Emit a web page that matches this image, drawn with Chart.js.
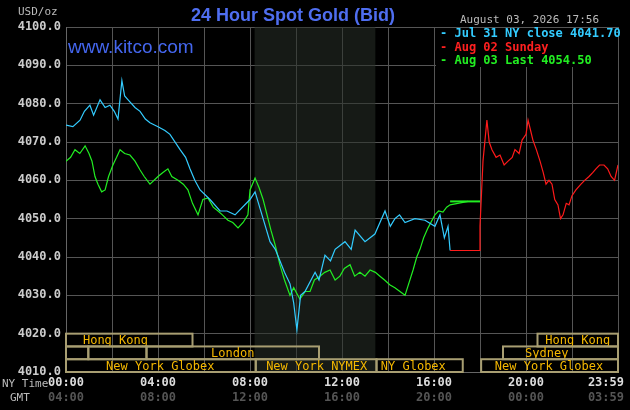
<!DOCTYPE html>
<html><head><meta charset="utf-8">
<script src="https://cdn.jsdelivr.net/npm/chart.js@4/dist/chart.umd.min.js"></script>
<style>html,body{margin:0;background:#000}#w{width:630px;height:410px}</style>
</head><body><div id="w"><canvas id="c"></canvas></div>
<script>
const yTicks=[4010,4020,4030,4040,4050,4060,4070,4080,4090,4100];
const xLabelHours=[0,4,8,12,16,20,24];
const nyLabels=["00:00","04:00","08:00","12:00","16:00","20:00","23:59"];
const gmtLabels=["04:00","08:00","12:00","16:00","20:00","00:00","03:59"];
const julHours=[0,0.3,0.61,0.8,1.04,1.2,1.48,1.7,1.91,2.1,2.26,2.43,2.55,2.70,3.0,3.22,3.45,3.65,4.0,4.3,4.52,4.96,5.2,5.39,5.6,5.83,6.26,6.7,7.0,7.35,8.0,8.22,8.52,8.87,9.1,9.3,9.5,9.74,9.9,10.04,10.2,10.39,10.83,11.0,11.26,11.5,11.7,12.13,12.4,12.57,13.0,13.43,13.87,14.1,14.3,14.5,14.74,15.17,15.61,16.04,16.26,16.45,16.61,16.7];
const julValues=[4074.4,4074,4075.7,4078,4079.6,4077,4081,4079,4079.6,4078,4076,4086,4082,4081,4079,4078,4076,4075,4074,4073,4072,4068,4066,4063,4060,4057.5,4055,4052,4052,4051,4055,4057,4051,4044,4042,4039,4036,4033,4028,4021,4030,4031,4036,4034,4040.5,4039,4042,4044,4042,4047,4044,4046,4052,4048,4050,4051,4049,4050,4049.6,4048,4051,4045,4048,4041.7];
const augHours=[0,0.2,0.39,0.6,0.83,1.0,1.13,1.26,1.39,1.55,1.7,1.85,2.04,2.2,2.35,2.55,2.78,3.0,3.22,3.4,3.65,4.0,4.2,4.43,4.6,4.87,5.1,5.3,5.5,5.74,5.95,6.17,6.4,6.61,6.8,7.04,7.25,7.48,7.7,7.91,8.0,8.22,8.4,8.57,8.91,9.1,9.3,9.5,9.74,9.9,10.17,10.4,10.61,10.8,11.04,11.25,11.48,11.7,11.91,12.1,12.35,12.55,12.78,13.0,13.22,13.45,13.65,13.85,14.09,14.3,14.52,14.74,15.09,15.25,15.39,15.55,15.74,16.04,16.2,16.39,16.55,16.7,17.48];
const augValues=[4065,4066,4068,4067,4069,4067,4065,4061,4059,4057,4057.5,4061,4064,4066,4068,4067,4066.6,4065,4062.7,4061,4059,4061,4062,4063,4061,4060,4059,4057.5,4054,4051,4055,4055.4,4053,4052,4051,4049.6,4049,4047.6,4049,4051,4057.5,4060.6,4058,4055,4047,4043,4038,4034,4030,4032,4029,4031,4031,4034,4035,4036,4036.6,4034,4035,4037,4038,4035,4036,4035,4036.6,4036,4035,4034,4032.7,4032,4031,4030,4036.6,4040,4042,4045,4047.6,4051,4052,4051.7,4053,4053.6,4054.5];
const augLastHours=[16.7,17.48,18.0];
const augLastValues=[4054.5,4054.5,4054.5];
const sunHours=[16.7,18.0,18.0,18.13,18.3,18.4,18.52,18.7,18.87,19.05,19.22,19.4,19.52,19.7,19.83,20.0,20.09,20.2,20.3,20.45,20.61,20.75,20.87,21.0,21.13,21.25,21.39,21.5,21.61,21.75,21.87,22.0,22.17,22.39,22.55,22.74,22.9,23.04,23.2,23.39,23.55,23.7,23.85,24.0];
const sunValues=[4041.7,4041.7,4048,4065,4075.7,4070,4068,4066,4066.6,4064,4065,4066,4068,4067,4070.5,4072,4075.7,4073,4070.5,4068,4065,4062,4059,4060,4059,4055,4053.6,4050,4051,4054,4053.6,4056,4057.5,4059,4060,4061,4062,4063,4064,4064,4063,4061,4060,4064];
const sessions=[
 {row:0,from:0,to:5.5,label:"Hong Kong",lx:2.15},
 {row:0,from:20.5,to:24,label:"Hong Kong",lx:22.25},
 {row:1,from:0,to:0.97,label:""},
 {row:1,from:0.97,to:3.5,label:""},
 {row:1,from:3.5,to:11,label:"London",lx:7.25},
 {row:1,from:19.0,to:24,label:"Sydney",lx:20.9},
 {row:2,from:0,to:8.25,label:"New York Globex",lx:4.1},
 {row:2,from:8.25,to:13.5,label:"New York NYMEX",lx:10.9},
 {row:2,from:13.5,to:17.25,label:"NY Globex",lx:15.1},
 {row:2,from:18.05,to:24,label:"New York Globex",lx:21.0}];
const nymexFrom=8.2, nymexTo=13.45;
const pts=(h,v)=>h.map((x,i)=>({x,y:v[i]}));
const mono="DejaVu Sans Mono";
const plug={id:'k',
 beforeDatasetsDraw(ch){
  const {ctx,chartArea:a,scales:{x,y}}=ch;
  ctx.save();
  ctx.fillStyle='rgba(40,48,40,0.55)';
  ctx.fillRect(x.getPixelForValue(nymexFrom),a.top,x.getPixelForValue(nymexTo)-x.getPixelForValue(nymexFrom),a.bottom-a.top);
  const rh=(y.getPixelForValue(4010)-y.getPixelForValue(4020))/3;
  ctx.strokeStyle='#a89e72';ctx.lineWidth=2;ctx.font='12px '+mono;ctx.fillStyle='#f5b800';ctx.textBaseline='middle';ctx.textAlign='center';
  sessions.forEach(s=>{const t=y.getPixelForValue(4020)+s.row*rh;const l=x.getPixelForValue(s.from),r=x.getPixelForValue(s.to);
   ctx.strokeRect(l,t,r-l,rh);
   if(s.label){ctx.fillText(s.label,x.getPixelForValue(s.lx),t+rh/2+1);}});
  ctx.fillStyle='#000';ctx.fillRect(436,28,182,39);
  ctx.textAlign='left';ctx.font='bold 12px '+mono;
  [["- Jul 31 NY close 4041.70","#33ccff"],["- Aug 02 Sunday","#ff2020"],["- Aug 03 Last 4054.50","#22ee22"]].forEach((l,i)=>{ctx.fillStyle=l[1];ctx.fillText(l[0],440,34+i*13.5);});
  ctx.font='19px "Liberation Sans"';ctx.fillStyle='#4466ee';ctx.fillText('www.kitco.com',68,48);
  ctx.restore();
 },
 afterDraw(ch){
  const {ctx,chartArea:a,scales:{x,y}}=ch;
  ctx.save();
  ctx.font='bold 12px '+mono;ctx.fillStyle='#cccccc';ctx.textAlign='right';ctx.textBaseline='middle';
  yTicks.forEach(v=>ctx.fillText(v.toFixed(1),61,y.getPixelForValue(v)));
  xLabelHours.forEach((h,i)=>{ctx.textAlign=i==xLabelHours.length-1?'right':'center';const px=x.getPixelForValue(h)+(i==xLabelHours.length-1?6:0);ctx.fillStyle='#dddddd';ctx.fillText(nyLabels[i],px,383);ctx.fillStyle='#555';ctx.fillText(gmtLabels[i],px,398);});
  ctx.font='11px '+mono;ctx.fillStyle='#bbbbbb';ctx.textAlign='left';
  ctx.fillText('NY Time',2,384);ctx.fillText('GMT',10,398);ctx.fillText('USD/oz',18,12);
  ctx.fillText('August 03, 2026 17:56',460,20);
  ctx.font='bold 18px "Liberation Sans"';ctx.fillStyle='#4f6ef0';ctx.textAlign='center';ctx.fillText('24 Hour Spot Gold (Bid)',293,16);
  ctx.restore();
 }};
new Chart(document.getElementById('c'),{type:'scatter',
 data:{datasets:[
  {data:pts(sunHours,sunValues),borderColor:'#ff1a1a'},
  {data:pts(julHours,julValues),borderColor:'#33ccff'},
  {data:pts(augLastHours,augLastValues),borderColor:'#22ee22',borderWidth:2},
  {data:pts(augHours,augValues),borderColor:'#22ee22'}].map(d=>Object.assign({showLine:true,pointRadius:0,borderWidth:1.2,tension:0},d))},
 options:{responsive:true,maintainAspectRatio:false,animation:false,
  layout:{padding:{left:66,right:12,top:27,bottom:38}},
  plugins:{legend:{display:false},tooltip:{enabled:false}},
  scales:{
   x:{type:'linear',min:0,max:24,ticks:{display:false,stepSize:2},grid:{color:'#555',drawTicks:false},border:{color:'#666'}},
   y:{min:4010,max:4100,ticks:{display:false,stepSize:10},grid:{color:'#555',drawTicks:false},border:{color:'#666'}}}},
 plugins:[plug]});
</script></body></html>
